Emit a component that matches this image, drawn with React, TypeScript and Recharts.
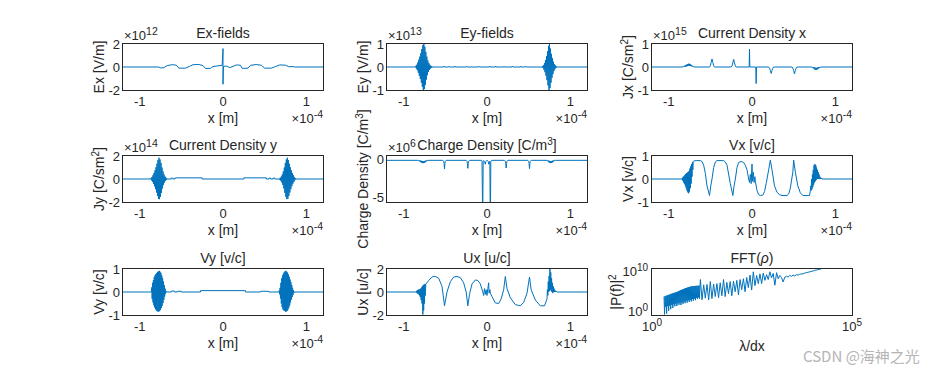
import { LineChart, Line, XAxis, YAxis } from 'recharts';

// x positions are in micrometres; the axis shows them in units of 1e-4 m
const xTicks = [-100, 0, 100];

// Ex (x, Ex / 1e12)
const exField = [
  -120, 0, -77, 0, -75, -0.08, -71, -0.06, -67, 0.12, -61, 0.2, -56, 0.16, -53, -0.1, -45, -0.1,
  -40, 0.06, -36, 0.2, -29, 0.22, -24, 0.12, -21, -0.13, -15, -0.12, -12, 0.04, -6, 0.1, -1, 0.14,
  0, 1.6, 0, -1.5, 0.5, 0.05, 4, 0.08, 8, -0.05, 12, 0.05, 16, 0.18, 21, 0.15, 23, -0.12, 30, -0.1,
  33, 0.14, 40, 0.22, 46, 0.15, 50, -0.1, 58, -0.1, 63, 0.04, 68, 0.18, 75, 0.16, 79, 0.02, 84, 0.04,
  86, 0, 120, 0,
];

// Ey (x, Ey / 1e13)
const eyField = [
  -120, 0, -86, 0, -85.4, 0.05, -84.8, -0.07, -84.2, 0.1, -83.6, -0.14, -83, 0.2, -82.4, -0.25,
  -81.8, 0.32, -81.2, -0.38, -80.6, 0.45, -80, -0.52, -79.4, 0.6, -78.8, -0.68, -78.2, 0.78,
  -77.6, -0.86, -77, 0.95, -76.4, -1, -75.8, 1, -75.2, -0.96, -74.6, 0.88, -74, -0.78, -73.4, 0.66,
  -72.8, -0.55, -72.2, 0.45, -71.6, -0.36, -71, 0.28, -70.4, -0.22, -69.8, 0.17, -69.2, -0.13,
  -68.6, 0.1, -68, -0.07, -67.4, 0.05, -66.8, -0.04, -66.2, 0.03, -65.6, -0.02, -65, 0,
  -52, 0, -51.5, 0.04, -51, 0, -46, 0, -45.5, 0.03, -45, 0, -39, 0, -38.5, 0.04, -38, 0,
  -25, 0, -24.5, 0.03, -24, 0, -10, 0, -9.5, 0.03, -9, 0, 3, 0, 3.5, 0.04, 4, 0, 10, 0, 10.5, 0.04,
  11, 0, 20, 0, 20.5, 0.03, 21, 0, 30, 0, 30.5, 0.04, 31, 0, 40, 0, 40.5, 0.04, 41, 0, 46, 0,
  46.5, 0.03, 47, 0,
  66, 0, 66.6, 0.03, 67.2, -0.05, 67.8, 0.08, 68.4, -0.12, 69, 0.17, 69.6, -0.23, 70.2, 0.3,
  70.8, -0.38, 71.4, 0.47, 72, -0.57, 72.6, 0.68, 73.2, -0.8, 73.8, 0.92, 74.4, -1, 75, 1,
  75.6, -0.92, 76.2, 0.8, 76.8, -0.68, 77.4, 0.57, 78, -0.47, 78.6, 0.38, 79.2, -0.3, 79.8, 0.23,
  80.4, -0.17, 81, 0.12, 81.6, -0.09, 82.2, 0.06, 82.8, -0.04, 83.4, 0.02, 84, 0, 120, 0,
];

// Jx (x, Jx / 1e15)
const jxDensity = [
  -120, 0, -83, 0, -82, 0.02, -81.5, 0, -81, 0.05, -80.5, 0.01, -80, 0.07, -79.5, 0.02, -79, 0.09,
  -78.5, 0.03, -78, 0.11, -77.5, 0.04, -77, 0.13, -76.5, 0.05, -76, 0.14, -75.5, 0.06, -75, 0.14,
  -74.5, 0.05, -74, 0.12, -73.5, 0.04, -73, 0.09, -72.5, 0.03, -72, 0.06, -71.5, 0.02, -71, 0.04,
  -70, 0, -51, 0, -50, 0.05, -49, 0.2, -48, 0.35, -47, 0.2, -46, 0.05, -45, 0,
  -25, 0, -24, 0.05, -23, 0.18, -22, 0.33, -21, 0.18, -20, 0.05, -19, 0,
  -3.4, 0, -3, 0.78, -2.6, 0, 4.6, 0, 5, -0.72, 5.4, 0,
  20, 0, 21, -0.05, 22, -0.15, 23, -0.28, 24, -0.15, 25, -0.05, 26, 0,
  48, 0, 49, -0.05, 50, -0.15, 51, -0.3, 52, -0.15, 53, -0.05, 54, 0,
  72, 0, 72.5, -0.02, 73, 0, 73.5, -0.05, 74, -0.01, 74.5, -0.08, 75, -0.02, 75.5, -0.11, 76, -0.03,
  76.5, -0.12, 77, -0.04, 77.5, -0.12, 78, -0.03, 78.5, -0.1, 79, -0.02, 79.5, -0.07, 80, -0.01,
  80.5, -0.05, 81, -0.01, 81.5, -0.03, 82, 0, 120, 0,
];

// Jy (x, Jy / 1e14)
const jyDensity = [
  -120, 0, -87, 0, -86.4, 0.08, -85.8, -0.12, -85.2, 0.18, -84.6, -0.25, -84, 0.33, -83.4, -0.42,
  -82.8, 0.52, -82.2, -0.63, -81.6, 0.75, -81, -0.88, -80.4, 1.02, -79.8, -1.17, -79.2, 1.33,
  -78.6, -1.48, -78, 1.65, -77.4, -1.72, -76.8, 1.85, -76.2, -1.75, -75.6, 1.7, -75, -1.55,
  -74.4, 1.4, -73.8, -1.2, -73.2, 1.0, -72.6, -0.82, -72, 0.66, -71.4, -0.52, -70.8, 0.4,
  -70.2, -0.3, -69.6, 0.22, -69, -0.16, -68.4, 0.11, -67.8, -0.07, -67.2, 0.04, -66.6, 0,
  -62, 0, -62, 0.08, -60, 0.08, -60, 0, -58, 0, -58, 0.08, -56, 0.08, -56, 0.1, -25, 0.1, -25, 0,
  25, 0, 25, 0.1, 52, 0.1, 52, 0, 55, 0, 55, 0.08, 57, 0.08, 57, 0, 60, 0, 60, 0.08, 62, 0.08, 62, 0,
  67, 0, 67.6, 0.04, 68.2, -0.07, 68.8, 0.11, 69.4, -0.16, 70, 0.22, 70.6, -0.3, 71.2, 0.4,
  71.8, -0.52, 72.4, 0.66, 73, -0.82, 73.6, 1.0, 74.2, -1.2, 74.8, 1.4, 75.4, -1.55, 76, 1.7,
  76.6, -1.75, 77.2, 1.85, 77.8, -1.72, 78.4, 1.65, 79, -1.48, 79.6, 1.33, 80.2, -1.17, 80.8, 1.02,
  81.4, -0.88, 82, 0.75, 82.6, -0.63, 83.2, 0.52, 83.8, -0.42, 84.4, 0.33, 85, -0.25, 85.6, 0.18,
  86.2, -0.12, 86.8, 0.08, 87.4, 0, 120, 0,
];

// charge density (x, rho / 1e6)
const rhoDensity = [
  -120, -0.08, -83, -0.08, -82, -0.12, -81.5, -0.08, -81, -0.2, -80.5, -0.1, -80, -0.28, -79.5, -0.12,
  -79, -0.35, -78.5, -0.15, -78, -0.42, -77.5, -0.2, -77, -0.45, -76.5, -0.2, -76, -0.45, -75.5, -0.18,
  -75, -0.4, -74.5, -0.15, -74, -0.32, -73.5, -0.12, -73, -0.24, -72.5, -0.1, -72, -0.15, -71, -0.08,
  -53, -0.08, -52, -0.2, -51.5, -0.5, -51, -1.25, -50.5, -0.5, -50, -0.2, -49, -0.08,
  -25, -0.08, -24, -0.2, -23.5, -0.5, -23, -1.15, -22.5, -0.5, -22, -0.2, -21, -0.08,
  -6.5, -0.08, -6, -0.2, -5.4, -5.9, -5, -5.9, -4.6, -0.2, -4, -0.1, -3, -0.25, -2, -0.6, -1.5, -0.25,
  -0.5, -0.1, 0.5, -0.1, 1.5, -0.25, 2, -0.6, 3, -0.25, 3.4, -0.2, 3.8, -5.9, 4.2, -5.9, 4.6, -0.2,
  5.5, -0.08, 21, -0.08, 22, -0.2, 22.5, -0.5, 23, -1.1, 23.5, -0.5, 24, -0.2, 25, -0.08,
  49, -0.08, 50, -0.2, 50.5, -0.5, 51, -1.2, 51.5, -0.5, 52, -0.2, 53, -0.08,
  72, -0.08, 72.5, -0.15, 73, -0.1, 73.5, -0.25, 74, -0.12, 74.5, -0.35, 75, -0.15, 75.5, -0.42,
  76, -0.2, 76.5, -0.45, 77, -0.2, 77.5, -0.42, 78, -0.16, 78.5, -0.35, 79, -0.12, 79.5, -0.26,
  80, -0.1, 80.5, -0.18, 81, -0.09, 82, -0.08, 120, -0.08,
];

// Vx (x, vx / c)
const vxVelocity = [
  -120, 0, -84, 0, -83.5, 0.05, -83, -0.08, -82.5, 0.1, -82, -0.15, -81.5, 0.12, -81, -0.22,
  -80.5, 0.18, -80, -0.3, -79.5, 0.22, -79, -0.4, -78.5, 0.25, -78, -0.5, -77.5, 0.28, -77, -0.58,
  -76.5, 0.3, -76, -0.62, -75.5, 0.35, -75, -0.55, -74.5, 0.45, -74, -0.4, -73.5, 0.55, -73, -0.2,
  -72.5, 0.65, -72, 0.1, -71.5, 0.72, -71, 0.4, -70.5, 0.76, -70, 0.78, -67, 0.8, -62, 0.8, -60, 0.76,
  -58, 0.6, -56, 0.25, -54, -0.3, -51, -0.72, -49.5, -0.3, -48, 0, -46, 0.5, -44, 0.74, -42, 0.8,
  -34, 0.8, -32, 0.74, -30, 0.6, -26, -0.2, -23, -0.72, -21.5, -0.3, -20, 0, -18, 0.5, -16, 0.72,
  -13, 0.76, -10, 0.72, -8, 0.6, -6, 0.4,
  -4, 0, -3, -0.15, -2, 0.2, -1, -0.2, 0, 0.65, 0.5, -0.1, 1.5, 0.3, 2.5, -0.15, 3.5, 0.1, 4, -0.1,
  6, -0.5, 8, -0.68, 10, -0.72, 13, -0.7, 15, -0.55, 17, -0.2, 20, 0.4, 22, 0.82, 24, 0.4, 27, -0.3,
  30, -0.58, 33, -0.68, 36, -0.72, 42, -0.72, 44, -0.65, 46, -0.4, 49, 0.3, 50, 0.82, 52, 0.3, 55, -0.3,
  58, -0.6, 61, -0.72, 69, -0.72,
  70, -0.5, 70.5, -0.3, 71, -0.5, 71.5, 0, 72, -0.45, 72.5, 0.2, 73, -0.35, 73.5, 0.4, 74, -0.25,
  74.5, 0.6, 75, -0.15, 75.5, 0.65, 76, -0.1, 76.5, 0.6, 77, -0.05, 77.5, 0.5, 78, 0, 78.5, 0.4,
  79, 0, 79.5, 0.3, 80, 0, 80.5, 0.2, 81, 0, 81.5, 0.1, 82, 0, 82.5, 0.05, 84, 0, 120, 0,
];

// Vy (x, vy / c)
const vyVelocity = [
  -120, 0, -86, 0, -85.5, 0.2, -85, -0.3, -84.5, 0.4, -84, -0.45, -83.5, 0.52, -83, -0.58,
  -82.5, 0.64, -82, -0.68, -81.5, 0.72, -81, -0.75, -80.5, 0.78, -80, -0.8, -79.5, 0.83, -79, -0.83,
  -78.5, 0.87, -78, -0.85, -77.5, 0.9, -77, -0.85, -76.5, 0.92, -76, -0.82, -75.5, 0.88, -75, -0.78,
  -74.5, 0.82, -74, -0.7, -73.5, 0.72, -73, -0.6, -72.5, 0.6, -72, -0.48, -71.5, 0.46, -71, -0.34,
  -70.5, 0.3, -70, -0.2, -69.5, 0.15, -69, -0.08, -68.5, 0.05, -68, 0,
  -62, 0, -62, 0.04, -58, 0.04, -58, 0, -55, 0, -55, 0.03, -50, 0.03, -50, 0, -27, 0, -27, 0.06,
  27, 0.06, 27, 0, 45, 0, 45, 0.03, 55, 0.03, 55, 0, 67, 0,
  67.5, 0.06, 68, -0.1, 68.5, 0.18, 69, -0.28, 69.5, 0.4, 70, -0.5, 70.5, 0.6, 71, -0.66, 71.5, 0.72,
  72, -0.76, 72.5, 0.8, 73, -0.8, 73.5, 0.86, 74, -0.82, 74.5, 0.9, 75, -0.85, 75.5, 0.92, 76, -0.85,
  76.5, 0.88, 77, -0.82, 77.5, 0.84, 78, -0.76, 78.5, 0.76, 79, -0.68, 79.5, 0.66, 80, -0.58,
  80.5, 0.54, 81, -0.45, 81.5, 0.42, 82, -0.33, 82.5, 0.3, 83, -0.22, 83.5, 0.18, 84, -0.12,
  84.5, 0.08, 85, -0.04, 85.5, 0, 120, 0,
];

// Ux (x, ux / c)
const uxMomentum = [
  -120, 0, -85, 0, -84.5, 0.1, -84, -0.1, -83.5, 0.15, -83, -0.15, -82.5, 0.2, -82, -0.2, -81.5, 0.2,
  -81, -0.3, -80.5, 0.25, -80, -0.45, -79.5, 0.3, -79, -0.7, -78.5, 0.4, -78, -1.0, -77.5, 0.5,
  -77, -1.95, -76.5, 0.6, -76, -1.6, -75.5, 0.65, -75, -1.0, -74.5, 0.7, -74, -0.3, -73.5, 0.7,
  -72, 0.8, -70, 1.0, -66, 1.3, -64, 1.35, -62, 1.35, -58, 1.2, -54, 0.5, -51, -1.2, -48, 0,
  -44, 0.9, -40, 1.3, -36, 1.35, -32, 1.25, -28, 0.8, -25, 0, -23, -1.2, -21, -0.2, -18, 0.7,
  -14, 1.05, -11, 1.0, -8, 0.7, -5, 0, -4, -0.3, -3, 0.3, -2, -0.2, -1, 0.2, 0, -0.3, 1, 0.3,
  2, 0.8, 2.5, -0.1, 3.5, 0.2, 4, -0.1, 6, -0.4, 10, -0.95, 14, -1.0, 17, -0.6, 20, 0.2, 22, 1.35,
  24, 0.3, 28, -0.5, 34, -1.1, 40, -1.2, 44, -0.9, 48, -0.1, 51, 1.3, 53, 0.2, 58, -0.7, 64, -1.2,
  69, -1.2, 72, -0.6, 72.5, 0.2, 73, -0.3, 73.5, 0.9, 74, 0, 74.5, 1.4, 75, 0.1, 75.5, 2.0, 76, 0.2,
  76.5, 1.7, 77, 0.1, 77.5, 1.2, 78, 0, 78.5, 0.8, 79, -0.1, 79.5, 0.5, 80, 0, 80.5, 0.3, 81, 0,
  81.5, 0.15, 82, 0, 82.5, 0.08, 84, 0, 120, 0,
];

// FFT of rho: wavelength in cells and power
const fftLambda = [
  2.0, 2.06, 2.12, 2.19, 2.25, 2.32, 2.39, 2.46, 2.53, 2.61, 2.69, 2.77, 2.85, 2.94, 3.03, 3.12,
  3.21, 3.31, 3.41, 3.51, 3.61, 3.72, 3.83, 3.95, 4.07, 4.19, 4.32, 4.45, 4.58, 4.72, 4.86, 5.0,
  5.15, 5.31, 5.47, 5.63, 5.8, 5.98, 6.16, 6.34, 6.53, 6.73, 6.93, 7.14, 7.35, 7.57, 7.8, 8.03,
  8.27, 8.52, 8.78, 9.04, 9.31, 9.59, 9.88, 10.2, 10.5, 10.8, 11.1, 11.5, 11.8, 12.2, 12.5, 12.9,
  13.3, 13.7, 14.1, 14.5, 15.0, 15.4, 15.9, 16.2,
  17.8, 19.6, 21.5, 23.7, 26.1, 28.7, 31.5, 34.7, 38.1, 41.9, 46.1,
  50.7, 55.8, 61.4, 67.5, 74.3, 81.7, 89.9, 98.9, 109, 120, 132, 145, 159, 175, 193, 212, 233, 256,
  282, 310, 341, 375, 413, 454, 500, 550, 605, 665, 732, 805, 885, 974, 1070, 1180, 1300, 1430,
  1570, 1730, 1900, 2090, 2300, 2530, 2780, 3060, 3370, 3700, 4070, 4480, 4930, 5420, 5960, 6560,
  7210, 7930, 8730, 9600, 10600, 11600, 12800, 14100, 15500, 17000,
];
const fftPower = [
  6.3e3, 0.25, 8e3, 20, 1e4, 0.4, 1.2e4, 30, 1.5e4, 2, 1.9e4, 40, 2.3e4, 5, 3e4, 60,
  3.8e4, 10, 4.5e4, 80, 5.5e4, 25, 6.5e4, 100, 8e4, 30, 1e5, 150, 1.3e5, 60, 1.7e5, 200,
  2.2e5, 50, 2.8e5, 250, 3.6e5, 100, 4.6e5, 400, 6e5, 150, 7.5e5, 600, 9e5, 200, 1.1e6, 800,
  1.3e6, 300, 1.6e6, 1e3, 1.9e6, 400, 2.1e6, 1.5e3, 2.3e6, 600, 2.5e6, 2e3, 2.6e6, 800, 2.8e6, 3e3,
  2.9e6, 1.5e3, 3e6, 4e3, 3.1e6, 2e3, 3.2e6, 1e8,
  1e3, 5e6, 2.5e3, 6.3e6, 1e3, 3.2e7, 2e3, 8e6, 6.3e3, 1e7, 3.2e3,
  1.6e7, 1e4, 1e8, 6.3e3, 2e7, 3.2e4, 3.2e7, 1e4, 4e7, 1e5, 6.3e7, 1.6e4, 1e8, 3.2e5, 1.6e8, 1e5,
  3.2e8, 1e6, 1.26e9, 2.5e5, 8e9, 3.2e6, 1e9, 1e7, 2.5e9, 1e7, 4e9, 6.3e7, 1.6e9, 1e8, 8e9, 2.5e8,
  3.2e9, 4e6, 5e9, 1.6e8, 1e9, 3.2e8, 2.5e7, 4e8, 6.3e8, 4e8, 1e9, 6.3e8, 1.26e9, 8e8, 1.6e9,
  1.26e9, 2e9, 2.5e9, 2.5e9, 4e9, 5e9, 6.3e9, 8e9, 1e10, 1.26e10, 1.8e10, 2.2e10, 2.8e10, 3.5e10,
  4e10,
];

const BLUE = '#0072BD';
const INK = '#262626';
const FONT = '"Liberation Sans", Arial, Helvetica, sans-serif';
const W = 200;
const H = 46;
const COLS = [123, 387, 652];
const ROWS = [44, 156, 269];
const PAD_L = 60;
const PAD_T = 10;
const PAD_R = 10;
const PAD_B = 40;

const toPoints = (flat: number[]) => {
  const out: { x: number; y: number }[] = [];
  for (let i = 0; i < flat.length; i += 2) out.push({ x: flat[i], y: flat[i + 1] });
  return out;
};

const fftData = fftLambda.map((x, i) => ({ x, y: fftPower[i] }));

const panels = [
  { col: 0, row: 0, data: exField, yDomain: [-2, 2], yTicks: [-2, 0, 2], title: 'Ex-fields', ylabel: 'Ex [V/m]', yExp: '12' },
  { col: 1, row: 0, data: eyField, yDomain: [-1, 1], yTicks: [-1, 0, 1], title: 'Ey-fields', ylabel: 'Ey [V/m]', yExp: '13' },
  { col: 2, row: 0, data: jxDensity, yDomain: [-1, 1], yTicks: [-1, 0, 1], title: 'Current Density x', ylabel: 'Jx [C/sm^2]', yExp: '15' },
  { col: 0, row: 1, data: jyDensity, yDomain: [-2, 2], yTicks: [-2, 0, 2], title: 'Current Density y', ylabel: 'Jy [C/sm^2]', yExp: '14' },
  { col: 1, row: 1, data: rhoDensity, yDomain: [-5.65, 0.5], yTicks: [-5, 0], title: 'Charge Density [C/m^3]', ylabel: 'Charge Density [C/m^3]', yExp: '6' },
  { col: 2, row: 1, data: vxVelocity, yDomain: [-1, 1], yTicks: [-1, 0, 1], title: 'Vx [v/c]', ylabel: 'Vx [v/c]', yExp: '' },
  { col: 0, row: 2, data: vyVelocity, yDomain: [-1, 1], yTicks: [-1, 0, 1], title: 'Vy [v/c]', ylabel: 'Vy [v/c]', yExp: '' },
  { col: 1, row: 2, data: uxMomentum, yDomain: [-2, 2], yTicks: [-2, 0, 2], title: 'Ux [u/c]', ylabel: 'Ux [u/c]', yExp: '' },
];

const tickStyle = { fill: INK, fontSize: 13, fontFamily: FONT };

// text with single-character superscripts written as ^x
const Rich = ({ s }: { s: string }) => {
  const parts = s.split(/\^(.)/);
  return (
    <>
      {parts.map((p, i) =>
        i % 2 === 1 ? (
          <tspan key={i} dy={-5} fontSize={10}>{p}</tspan>
        ) : (
          <tspan key={i} dy={i > 0 ? 5 : 0}>{p}</tspan>
        )
      )}
    </>
  );
};

const PowTick = (props: any) => {
  const { x, y, payload, axis } = props;
  const exp = Math.round(Math.log10(payload.value));
  const isX = axis === 'x';
  return (
    <text x={x} y={y} textAnchor={isX ? 'middle' : 'end'} fill={INK} fontSize={13} fontFamily={FONT}>
      <tspan dy={isX ? 9 : 4.5}>10</tspan>
      <tspan dy={-5} fontSize={10}>{exp}</tspan>
    </text>
  );
};

const Panel = ({ p }: { p: (typeof panels)[number] }) => (
  <div style={{ position: 'absolute', left: COLS[p.col] - PAD_L, top: ROWS[p.row] - PAD_T }}>
    <LineChart
      width={W + PAD_L + PAD_R}
      height={H + PAD_T + PAD_B}
      data={toPoints(p.data)}
      margin={{ top: PAD_T, right: PAD_R, bottom: 0, left: 0 }}
    >
      <XAxis
        dataKey="x"
        type="number"
        domain={[-120, 120]}
        ticks={xTicks}
        interval={0}
        allowDataOverflow
        tickFormatter={(v: number) => String(v / 100)}
        axisLine={false}
        tickLine={false}
        tickSize={0}
        tickMargin={7}
        height={PAD_B}
        tick={tickStyle}
      />
      <YAxis
        type="number"
        domain={p.yDomain}
        ticks={p.yTicks}
        interval={0}
        allowDataOverflow
        axisLine={false}
        tickLine={false}
        tickSize={0}
        tickMargin={3}
        width={PAD_L}
        tick={tickStyle}
      />
      <Line type="linear" dataKey="y" stroke={BLUE} strokeWidth={1} dot={false} isAnimationActive={false} />
    </LineChart>
  </div>
);

const FftPanel = () => (
  <div style={{ position: 'absolute', left: COLS[2] - PAD_L, top: ROWS[2] - PAD_T }}>
    <LineChart
      width={W + PAD_L + PAD_R}
      height={H + PAD_T + PAD_B}
      data={fftData}
      margin={{ top: PAD_T, right: PAD_R, bottom: 0, left: 0 }}
    >
      <XAxis
        dataKey="x"
        type="number"
        scale="log"
        domain={[1, 1e5]}
        ticks={[1, 1e5]}
        interval={0}
        allowDataOverflow
        axisLine={false}
        tickLine={false}
        tickSize={0}
        tickMargin={7}
        height={PAD_B}
        tick={(t: any) => <PowTick {...t} axis="x" />}
      />
      <YAxis
        type="number"
        scale="log"
        domain={[0.178, 4e10]}
        ticks={[1, 1e10]}
        interval={0}
        allowDataOverflow
        axisLine={false}
        tickLine={false}
        tickSize={0}
        tickMargin={4}
        width={PAD_L}
        tick={(t: any) => <PowTick {...t} axis="y" />}
      />
      <Line type="linear" dataKey="y" stroke={BLUE} strokeWidth={1} dot={false} isAnimationActive={false} />
    </LineChart>
  </div>
);

const Overlay = () => {
  const boxes = [...panels.map((p) => [p.col, p.row]), [2, 2]];
  return (
    <svg
      width={942}
      height={375}
      style={{ position: 'absolute', left: 0, top: 0, pointerEvents: 'none' }}
      fontFamily={FONT}
      fill={INK}
    >
      {boxes.map(([c, r], i) => (
        <rect key={i} x={COLS[c] - 0.5} y={ROWS[r] - 0.5} width={W + 1} height={H + 1} fill="none" stroke={INK} strokeWidth={1} />
      ))}
      {panels.map((p, i) => {
        const L = COLS[p.col];
        const T = ROWS[p.row];
        return (
          <g key={i}>
            <text x={L + W / 2} y={T - 6} textAnchor="middle" fontSize={14}>
              <Rich s={p.title} />
            </text>
            <text x={L - 19} y={T + H / 2} textAnchor="middle" fontSize={14} transform={`rotate(-90 ${L - 19} ${T + H / 2})`}>
              <Rich s={p.ylabel} />
            </text>
            <text x={L + W / 2} y={T + H + 33} textAnchor="middle" fontSize={14}>x [m]</text>
            <text x={L + W} y={T + H + 33} textAnchor="end" fontSize={13}>
              ×10<tspan dy={-5} fontSize={10.5}>-4</tspan>
            </text>
            {p.yExp && (
              <text x={L + 1} y={T - 4} fontSize={13}>
                ×10<tspan dy={-5} fontSize={10.5}>{p.yExp}</tspan>
              </text>
            )}
          </g>
        );
      })}
      <g>
        <text x={COLS[2] + W / 2} y={ROWS[2] - 6} textAnchor="middle" fontSize={14}>
          FFT(<tspan fontStyle="italic">ρ</tspan>)
        </text>
        <text
          x={COLS[2] - 31}
          y={ROWS[2] + H / 2}
          textAnchor="middle"
          fontSize={14}
          transform={`rotate(-90 ${COLS[2] - 31} ${ROWS[2] + H / 2})`}
        >
          <Rich s="|P(f)|^2" />
        </text>
        <text x={COLS[2] + W / 2} y={ROWS[2] + H + 36} textAnchor="middle" fontSize={14}>λ/dx</text>
      </g>
      <text x={803} y={362} fontSize={15} fill="#b4b4b4" fontFamily='"Noto Sans CJK SC", "Noto Sans", sans-serif'>
        CSDN @海神之光
      </text>
    </svg>
  );
};

export default function App() {
  return (
    <div style={{ position: 'absolute', left: 0, top: 0, width: 942, height: 375, background: '#fff', fontFamily: FONT }}>
      {panels.map((p, i) => (
        <Panel key={i} p={p} />
      ))}
      <FftPanel />
      <Overlay />
    </div>
  );
}
